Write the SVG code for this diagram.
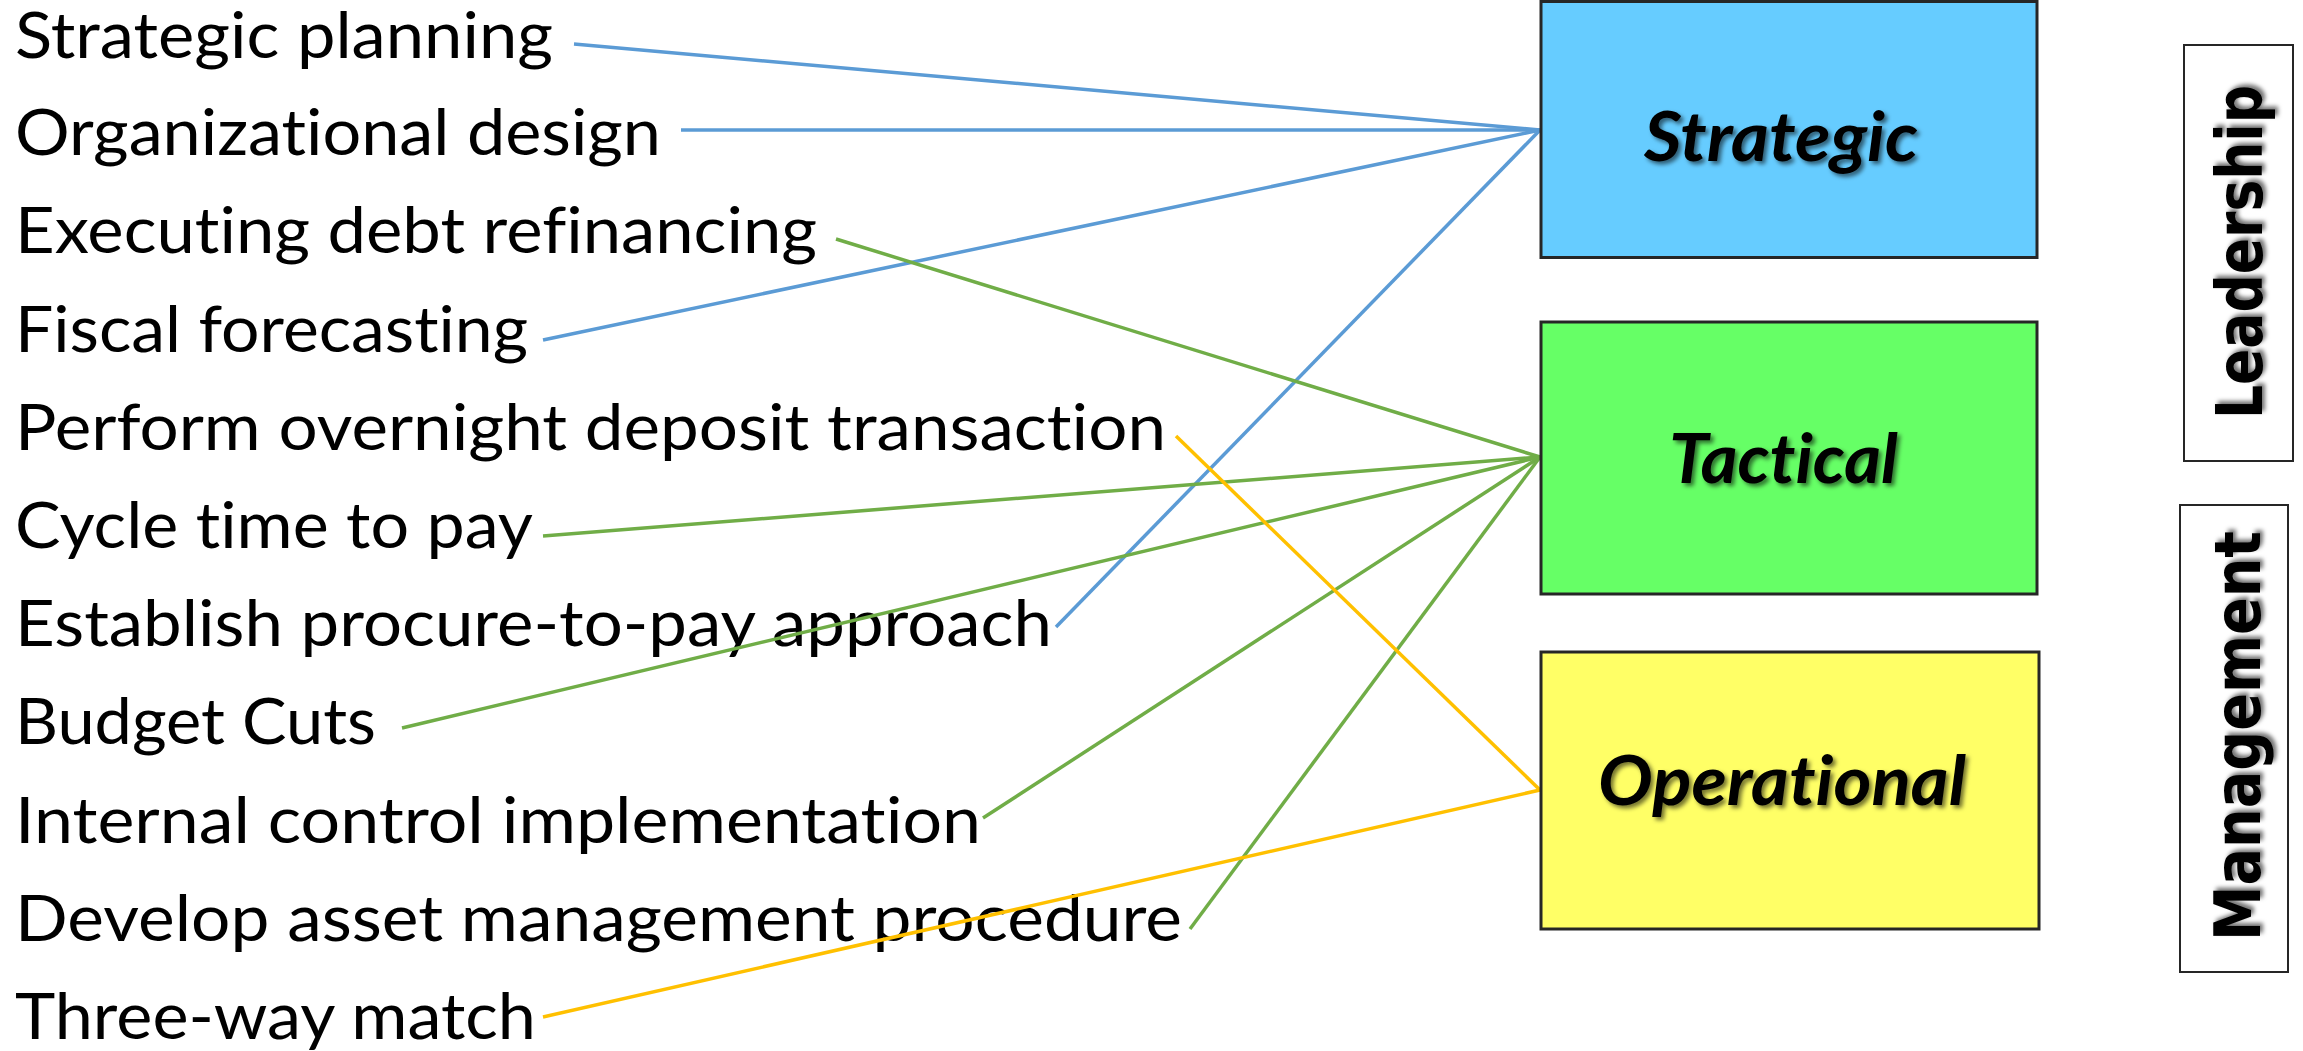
<svg xmlns="http://www.w3.org/2000/svg" width="2303" height="1051" viewBox="0 0 2303 1051">
<defs>
<filter id="shadow" x="-10%" y="-20%" width="130%" height="150%">
<feDropShadow dx="3" dy="3" stdDeviation="2" flood-color="#000" flood-opacity="0.55"/>
</filter>
<style>
text{font-variant-ligatures:none;font-feature-settings:"liga" 0,"clig" 0,"dlig" 0,"calt" 0;text-rendering:optimizeSpeed}
.item{font-family:Lato,"Liberation Sans",sans-serif;font-size:64px;fill:#000}
.lvl{font-family:Lato,"Liberation Sans",sans-serif;font-size:69px;font-weight:bold;font-style:italic;fill:#000;filter:url(#shadow)}
.side{font-family:"DejaVu Sans",Verdana,sans-serif;font-size:64px;font-weight:bold;fill:#000;filter:url(#shadow)}
.box{stroke:#262626;stroke-width:3}
.sidebox{fill:#fff;stroke:#262626;stroke-width:2}
.c{fill:none;stroke-width:3.5}
.blue{stroke:#5B9BD5}
.green{stroke:#70AD47}
.yellow{stroke:#FFC000}
</style>
</defs>
<rect width="2303" height="1051" fill="#fff"/>
<g id="items">
<g id="item-strategic-planning"><text class="item" x="15" y="58" textLength="538" lengthAdjust="spacingAndGlyphs">Strategic planning</text></g>
<g id="item-organizational-design"><text class="item" x="15" y="155" textLength="646" lengthAdjust="spacingAndGlyphs">Organizational design</text></g>
<g id="item-executing-debt"><text class="item" x="15" y="253" textLength="802" lengthAdjust="spacingAndGlyphs">Executing debt refinancing</text></g>
<g id="item-fiscal-forecasting"><text class="item" x="15" y="352" textLength="513" lengthAdjust="spacingAndGlyphs">Fiscal forecasting</text></g>
<g id="item-overnight-deposit"><text class="item" x="15" y="450" textLength="1151" lengthAdjust="spacingAndGlyphs">Perform overnight deposit transaction</text></g>
<g id="item-cycle-time"><text class="item" x="15" y="548" textLength="518" lengthAdjust="spacingAndGlyphs">Cycle time to pay</text></g>
<g id="item-procure-to-pay"><text class="item" x="15" y="646" textLength="1037" lengthAdjust="spacingAndGlyphs">Establish procure-to-pay approach</text></g>
<g id="item-budget-cuts"><text class="item" x="15" y="744" textLength="361" lengthAdjust="spacingAndGlyphs">Budget Cuts</text></g>
<g id="item-internal-control"><text class="item" x="15" y="843" textLength="966" lengthAdjust="spacingAndGlyphs">Internal control implementation</text></g>
<g id="item-asset-management"><text class="item" x="15" y="941" textLength="1167" lengthAdjust="spacingAndGlyphs">Develop asset management procedure</text></g>
<g id="item-three-way-match"><text class="item" x="15" y="1039" textLength="521" lengthAdjust="spacingAndGlyphs">Three-way match</text></g>
</g>
<g id="connectors">
<line class="c blue" x1="574" y1="44" x2="1540" y2="130"/>
<line class="c blue" x1="681" y1="130" x2="1540" y2="130"/>
<line class="c blue" x1="543" y1="340" x2="1540" y2="130"/>
<line class="c blue" x1="1056" y1="627" x2="1540" y2="130"/>
<line class="c green" x1="836" y1="239" x2="1540" y2="457"/>
<line class="c green" x1="543" y1="536" x2="1540" y2="457"/>
<line class="c green" x1="402" y1="728" x2="1540" y2="457"/>
<line class="c green" x1="983" y1="818" x2="1540" y2="457"/>
<line class="c green" x1="1190" y1="929" x2="1540" y2="457"/>
<line class="c yellow" x1="1176" y1="436" x2="1540" y2="790"/>
<line class="c yellow" x1="543" y1="1017" x2="1540" y2="790"/>
</g>
<g id="strategic">
<rect class="box" x="1541" y="1.5" width="496" height="256" fill="#66CCFF"/>
<text class="lvl" x="1644" y="161" textLength="274" lengthAdjust="spacingAndGlyphs">Strategic</text>
</g>
<g id="tactical">
<rect class="box" x="1541" y="322" width="496" height="272" fill="#66FF66"/>
<text class="lvl" x="1669" y="483" textLength="229" lengthAdjust="spacingAndGlyphs">Tactical</text>
</g>
<g id="operational">
<rect class="box" x="1541" y="652" width="498" height="277" fill="#FFFF66"/>
<text class="lvl" x="1598" y="805" textLength="368" lengthAdjust="spacingAndGlyphs">Operational</text>
</g>
<g id="leadership">
<rect class="sidebox" x="2184" y="45" width="109" height="416"/>
<text class="side" transform="translate(2262,252) rotate(-90)" text-anchor="middle" textLength="334" lengthAdjust="spacingAndGlyphs">Leadership</text>
</g>
<g id="management">
<rect class="sidebox" x="2180" y="505" width="108" height="467"/>
<text class="side" transform="translate(2260,736) rotate(-90)" text-anchor="middle" textLength="410" lengthAdjust="spacingAndGlyphs">Management</text>
</g>
</svg>
